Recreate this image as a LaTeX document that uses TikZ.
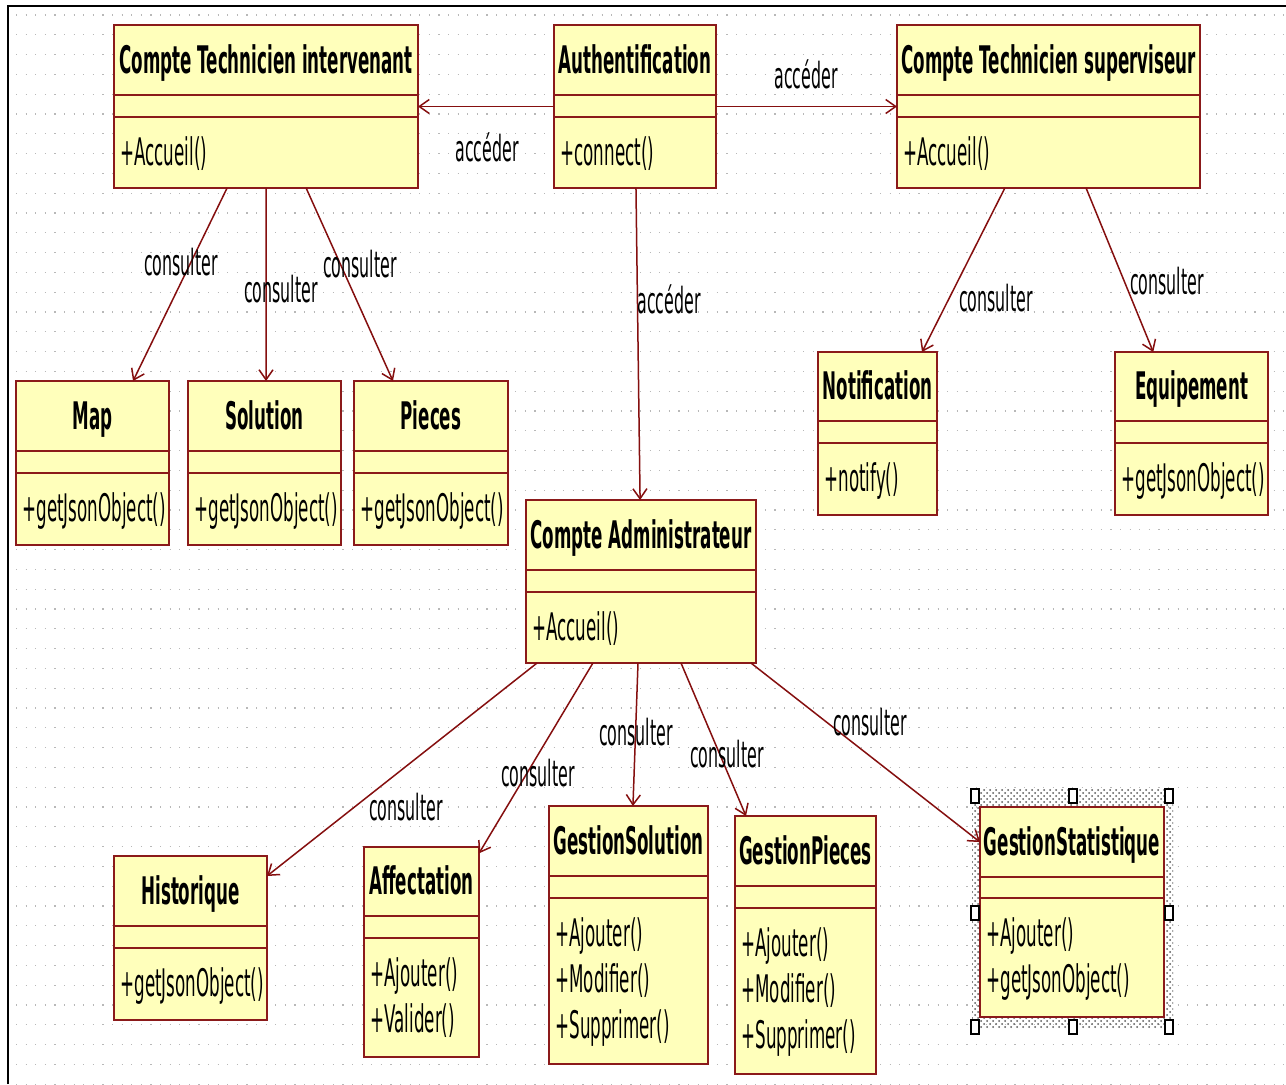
\documentclass[tikz,border=0pt]{standalone}
\usepackage{fontspec}
\newfontfamily\umlfont{DejaVu Sans}[FakeStretch=0.44]
\usetikzlibrary{arrows.meta,calc,patterns}

\definecolor{classfill}{HTML}{FFFFBB}
\definecolor{classedge}{HTML}{8B1A1A}
\definecolor{assoc}{HTML}{850F0F}
\definecolor{gridgray}{HTML}{B8B8B8}

\tikzset{
  classbox/.style={rectangle, draw=classedge, fill=classfill, line width=1pt, inner sep=0pt, outer sep=0pt},
  classline/.style={draw=classedge, line width=1pt},
  titletext/.style={inner sep=0pt, anchor=base, font=\umlfont\bfseries\fontsize{19}{23}\selectfont},
  optext/.style={inner sep=0pt, anchor=base west, font=\umlfont\fontsize{19}{23}\selectfont},
  navlink/.style={draw=assoc, line width=0.75pt, -{Straight Barb[length=5pt,width=7pt]}},
  linklabel/.style={inner sep=0pt, font=\umlfont\fontsize{18}{22}\selectfont},
  handle/.style={rectangle, draw=black, fill=white, line width=0.9pt, minimum width=4pt, minimum height=7pt, inner sep=0pt}
}

% class box: name, x1, y1, x2, y2, first separator, second separator, title, operations
\newcommand\umlclass[9]{%
  \node[classbox, anchor=north west, minimum width={(#4-#2)*0.5pt}, minimum height={(#5-#3)*0.5pt}] (#1) at (#2,#3) {};
  \draw[classline] (#2,#6) -- (#4,#6) (#2,#7) -- (#4,#7);
  \node[titletext] (#1-title) at ({(#2+#4)/2},{(#3+#6)/2+13}) {#8};
  \foreach \opline [count=\opno] in {#9} {
    \node[optext] (#1-op\opno) at ({#2+6},{#7+48+46*(\opno-1)}) {\opline};
  }
}

\begin{document}
\begin{tikzpicture}[x=0.5pt, y=-0.5pt]
\useasboundingbox (0,0) rectangle (1286,1084);
\fill[white] (0,0) rectangle (1286,1084);

% dotted drawing grid
\foreach \r in {0,...,54}
  \draw[gridgray, line width=0.6pt, dash pattern=on 0.6pt off 4.2pt] (16,{15+\r*19.8}) -- (1286,{15+\r*19.8});

% window frame
\draw[black, line width=1.25pt] (8,1084) -- (8,6) -- (1286,6);

% selection band around the selected class
\fill[pattern=crosshatch dots, pattern color=black!65] (972,789) rectangle (1173,1028);

% classes
\umlclass{cti}{114}{25}{418}{188}{95}{117}{Compte Technicien intervenant}{+Accueil()}
\umlclass{auth}{554}{25}{716}{188}{95}{117}{Authentification}{+connect()}
\umlclass{cts}{897}{25}{1200}{188}{95}{117}{Compte Technicien superviseur}{+Accueil()}
\umlclass{map}{16}{381}{169}{545}{451}{473}{Map}{+getJsonObject()}
\umlclass{sol}{188}{381}{341}{545}{451}{473}{Solution}{+getJsonObject()}
\umlclass{pie}{354}{381}{508}{545}{451}{473}{Pieces}{+getJsonObject()}
\umlclass{notif}{818}{352}{937}{515}{421}{443}{Notification}{+notify()}
\umlclass{equip}{1115}{352}{1268}{515}{421}{443}{Equipement}{+getJsonObject()}
\umlclass{admin}{526}{500}{756}{663}{570}{592}{Compte Administrateur}{+Accueil()}
\umlclass{hist}{114}{856}{267}{1020}{926}{948}{Historique}{+getJsonObject()}
\umlclass{affect}{364}{847}{479}{1057}{916}{938}{Affectation}{+Ajouter(),+Valider()}
\umlclass{gsol}{549}{806}{708}{1064}{876}{898}{GestionSolution}{+Ajouter(),+Modifier(),+Supprimer()}
\umlclass{gpie}{735}{816}{876}{1074}{886}{908}{GestionPieces}{+Ajouter(),+Modifier(),+Supprimer()}
\umlclass{gstat}{980}{807}{1164}{1017}{877}{898}{GestionStatistique}{+Ajouter(),+getJsonObject()}

% selection handles
\node[handle] (hnw) at (975,796) {};
\node[handle] (hn)  at (1073,796) {};
\node[handle] (hne) at (1169,796) {};
\node[handle] (hw)  at (975,913) {};
\node[handle] (he)  at (1169,913) {};
\node[handle] (hsw) at (975,1027) {};
\node[handle] (hs)  at (1073,1027) {};
\node[handle] (hse) at (1169,1027) {};

% navigable associations
\draw[navlink] (auth.west) -- (cti.east);
\draw[navlink] (auth.east) -- (cts.west);
\draw[navlink] ($(auth.south west)!0.506!(auth.south east)$) -- ($(admin.north west)!0.496!(admin.north east)$);

\draw[navlink] ($(cti.south west)!0.372!(cti.south east)$) -- ($(map.north west)!0.765!(map.north east)$);
\draw[navlink] ($(cti.south west)!0.5!(cti.south east)$) -- ($(sol.north west)!0.51!(sol.north east)$);
\draw[navlink] ($(cti.south west)!0.632!(cti.south east)$) -- ($(pie.north west)!0.253!(pie.north east)$);

\draw[navlink] ($(cts.south west)!0.356!(cts.south east)$) -- ($(notif.north west)!0.874!(notif.north east)$);
\draw[navlink] ($(cts.south west)!0.624!(cts.south east)$) -- ($(equip.north west)!0.25!(equip.north east)$);

\draw[navlink] ($(admin.south west)!0.048!(admin.south east)$) -- ($(hist.north east)!0.122!(hist.south east)$);
\draw[navlink] ($(admin.south west)!0.291!(admin.south east)$) -- ($(affect.north east)!0.03!(affect.south east)$);
\draw[navlink] ($(admin.south west)!0.487!(admin.south east)$) -- ($(gsol.north west)!0.528!(gsol.north east)$);
\draw[navlink] ($(admin.south west)!0.674!(admin.south east)$) -- ($(gpie.north west)!0.078!(gpie.north east)$);
\draw[navlink] ($(admin.south west)!0.978!(admin.south east)$) -- ($(gstat.north west)!0.167!(gstat.south west)$);

% association labels
\node[linklabel] (l-acc1) at (487,147) {accéder};
\node[linklabel] (l-acc2) at (806,74) {accéder};
\node[linklabel] (l-acc3) at (669,299) {accéder};
\node[linklabel] (l-map) at (181,262) {consulter};
\node[linklabel] (l-sol) at (281,289) {consulter};
\node[linklabel] (l-pie) at (360,264) {consulter};
\node[linklabel] (l-not) at (996,298) {consulter};
\node[linklabel] (l-equ) at (1167,281) {consulter};
\node[linklabel] (l-his) at (406,807) {consulter};
\node[linklabel] (l-aff) at (538,773) {consulter};
\node[linklabel] (l-gso) at (636,732) {consulter};
\node[linklabel] (l-gpi) at (727,754) {consulter};
\node[linklabel] (l-gst) at (870,722) {consulter};
\end{tikzpicture}
\end{document}
